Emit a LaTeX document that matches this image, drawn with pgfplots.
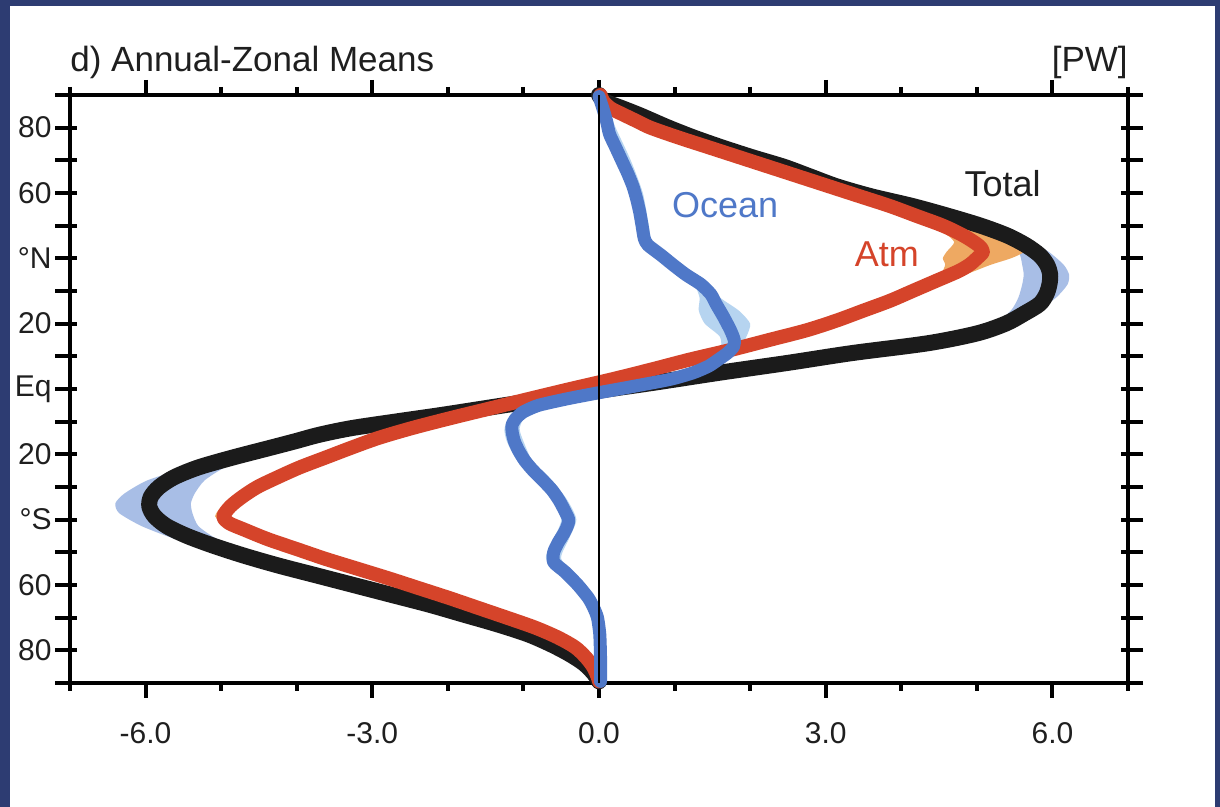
\documentclass[border=0pt]{standalone}
\usepackage{pgfplots}
\pgfplotsset{compat=1.18}
\usepackage{pgfplotstable}
\usepackage{fontspec}
\setmainfont{Liberation Sans}
\definecolor{totband}{HTML}{A8BEE6}
\definecolor{atmband}{HTML}{EEA962}
\definecolor{ocnband}{HTML}{B6D4F0}
\definecolor{atmred}{HTML}{D5442A}
\definecolor{ocnblue}{HTML}{4F78C8}
\definecolor{totblack}{HTML}{1B1B1B}
\definecolor{slide}{HTML}{2D3C72}

% Total northward energy transport (PW) vs latitude
\pgfplotstableread{
lat val
90 0.00
88 0.08
86 0.30
84 0.52
82 0.72
80 0.92
77 1.25
74 1.62
71 2.02
68 2.45
65 2.80
62 3.15
59 3.60
56 4.15
53 4.62
50 5.05
47 5.40
44 5.65
41 5.83
38 5.93
35 5.97
32 5.96
29 5.92
26 5.83
23 5.62
20 5.38
17 5.00
14 4.35
11 3.35
8 2.50
5 1.60
2 0.75
0 0.15
-2 -0.42
-4 -0.98
-6 -1.54
-8 -2.10
-10 -2.70
-12 -3.28
-14 -3.70
-16 -4.02
-18 -4.35
-21 -4.85
-24 -5.30
-27 -5.62
-30 -5.82
-33 -5.93
-36 -5.95
-39 -5.88
-42 -5.72
-45 -5.45
-48 -5.10
-51 -4.70
-54 -4.25
-57 -3.75
-60 -3.25
-63 -2.75
-66 -2.25
-69 -1.80
-72 -1.35
-75 -0.95
-78 -0.65
-81 -0.40
-84 -0.20
-87 -0.07
-89.5 0.00
}\totaltab

% Atmosphere
\pgfplotstableread{
lat val
90 0.02
88 0.06
86 0.15
84 0.32
82 0.50
80 0.68
77 1.05
74 1.45
71 1.85
68 2.25
65 2.65
62 3.05
59 3.45
56 3.85
53 4.20
50 4.55
47 4.82
44 5.02
42 5.08
40 5.00
38 4.90
36 4.75
33 4.45
30 4.15
27 3.85
24 3.50
21 3.15
18 2.75
15 2.25
12 1.75
9 1.20
6 0.70
3 0.18
0 -0.38
-3 -0.92
-6 -1.45
-9 -1.98
-12 -2.48
-15 -2.92
-18 -3.28
-21 -3.62
-24 -3.96
-27 -4.25
-30 -4.52
-33 -4.72
-36 -4.88
-39 -4.97
-41 -4.90
-43 -4.70
-46 -4.38
-49 -4.00
-52 -3.62
-55 -3.20
-58 -2.78
-61 -2.38
-64 -1.98
-67 -1.60
-70 -1.22
-73 -0.85
-76 -0.55
-79 -0.32
-82 -0.18
-85 -0.08
-88 -0.02
-89.5 0.00
}\atmtab

% Ocean
\pgfplotstableread{
lat val
89.5 0.00
86 0.05
82 0.10
78 0.14
74 0.22
70 0.30
66 0.38
62 0.45
58 0.50
54 0.54
50 0.57
46 0.60
44 0.65
41 0.82
38 0.98
35 1.15
32 1.35
29 1.48
26 1.55
22 1.65
18 1.74
15 1.79
13 1.78
11 1.70
9 1.58
7 1.45
5 1.25
3 0.95
1 0.50
-1 0.03
-3 -0.42
-5 -0.80
-7 -1.00
-9 -1.10
-11 -1.15
-13 -1.15
-16 -1.12
-19 -1.06
-22 -0.98
-25 -0.87
-28 -0.74
-31 -0.62
-34 -0.53
-37 -0.46
-40 -0.40
-42 -0.42
-44 -0.46
-47 -0.54
-50 -0.60
-53 -0.60
-56 -0.45
-60 -0.28
-64 -0.14
-67 -0.07
-70 -0.02
-75 0.01
-82 0.02
-89.5 0.02
}\ocntab

% uncertainty ranges as closed outlines (down the low edge, up the high edge)
\pgfplotstableread{
x y
0 90
0.28 86
0.86 80
1.55 74
2.38 68
3.05 62
4.02 56
4.9 50
5.3 46
5.55 42
5.6 38
5.62 35
5.6 32
5.55 28
5.45 24
5.22 20
4.6 16
3.62 12
2.38 8
1.15 4
0.04 0
-1.08 -4
-2.2 -8
-3.38 -12
-4.15 -16
-4.85 -20
-5.45 -24
-5.98 -28
-6.28 -32
-6.4 -35
-6.35 -38
-6.05 -42
-5.6 -46
-5.0 -50
-4.35 -54
-3.65 -58
-3.0 -62
-1.95 -68
-1.1 -74
-0.5 -80
-0.12 -86
0 -89.5
0.02 -89.5
-0.05 -86
-0.4 -80
-0.98 -74
-1.78 -68
-2.82 -62
-3.45 -58
-4.1 -54
-4.65 -50
-5.05 -46
-5.3 -42
-5.38 -38
-5.4 -35
-5.35 -32
-5.22 -28
-4.95 -24
-4.5 -20
-3.9 -16
-3.18 -12
-2.0 -8
-0.88 -4
0.24 0
1.35 4
2.6 8
3.85 12
4.9 16
5.48 20
5.8 24
6.05 28
6.2 32
6.22 35
6.15 38
5.95 42
5.65 46
5.2 50
4.3 56
3.28 62
2.55 68
1.72 74
1.0 80
0.34 86
0.02 90
}\totband

\pgfplotstableread{
x y
0 90
0.12 86
0.65 80
1.4 74
2.18 68
2.68 64
3.15 60
3.7 56
4.18 52
4.55 48
4.7 45
4.6 42
4.55 40
4.58 38
4.5 35
4.05 30
3.5 25
2.9 20
2.15 15
1.2 10
0.35 5
-0.48 0
-1.35 -5
-2.22 -10
-3.02 -15
-3.6 -20
-4.12 -25
-4.62 -30
-4.95 -35
-5.08 -39
-4.9 -42
-4.6 -46
-4.1 -50
-3.45 -55
-2.7 -60
-1.95 -65
-1.32 -70
-0.7 -75
-0.3 -80
-0.1 -85
0 -89.5
0.02 -89.5
-0.04 -85
-0.2 -80
-0.55 -75
-1.1 -70
-1.72 -65
-2.38 -60
-3.05 -55
-3.7 -50
-4.25 -46
-4.7 -42
-4.88 -39
-4.75 -35
-4.42 -30
-3.92 -25
-3.4 -20
-2.82 -15
-2.0 -10
-1.15 -5
-0.28 0
0.55 5
1.4 10
2.35 15
3.1 20
3.72 25
4.3 30
4.85 35
5.18 38
5.45 40
5.62 42
5.55 45
5.35 48
4.95 52
4.42 56
3.8 60
3.15 64
2.5 68
1.65 74
0.82 80
0.2 86
0.04 90
}\atmband

\pgfplotstableread{
x y
-0.03 89.5
0.05 80
0.22 70
0.40 60
0.52 50
0.58 44
0.9 38
1.25 32
1.33 28
1.32 24
1.4 20
1.6 16
1.6 12
1.35 8
1.0 4
0.1 0
-0.7 -4
-1.15 -8
-1.25 -12
-1.22 -16
-1.08 -22
-0.82 -28
-0.62 -34
-0.5 -40
-0.6 -46
-0.7 -52
-0.42 -58
-0.22 -64
-0.08 -70
-0.03 -80
-0.03 -89.5
0.06 -89.5
0.06 -80
0.04 -70
-0.06 -64
-0.25 -58
-0.5 -52
-0.4 -46
-0.3 -40
-0.42 -34
-0.62 -28
-0.88 -22
-1.0 -16
-1.05 -12
-0.95 -8
-0.5 -4
0.35 0
1.2 4
1.6 8
1.85 12
1.95 16
2.0 20
1.85 24
1.6 28
1.45 32
1.08 38
0.72 44
0.66 50
0.58 60
0.42 70
0.22 80
0.05 89.5
}\ocnband

\begin{document}
\begin{tikzpicture}
% 1 px of the reference = 0.5 pt
\fill[slide] (0pt,0pt) rectangle (610pt,403.5pt);
\fill[white] (5pt,0pt) rectangle (607.5pt,400.5pt);
\begin{axis}[
  at={(35pt,62pt)}, anchor=south west,
  scale only axis, width=529pt, height=294pt,
  xmin=-7, xmax=7, ymin=-90, ymax=90,
  clip=false,
  axis line style={line width=2.2pt, line cap=rect},
  tick style={line width=2pt, black},
  tick align=outside,
  major tick length=7.5pt,
  minor tick length=4pt,
  xtick={-6,-3,0,3,6},
  xticklabels={-6.0,-3.0,0.0,3.0,6.0},
  minor xtick={-7,-5,-4,-2,-1,1,2,4,5,7},
  ytick={-90,-80,...,90},
  yticklabels={,80,,60,,{°S},,20,,Eq,,20,,{°N},,60,,80,},
  extra y ticks={-90,-80,...,90},
  extra y tick labels={},
  extra y tick style={tick align=inside, major tick length=3.5pt},
  tick label style={font=\fontsize{15}{17}\selectfont, text=black!88},
  xticklabel style={inner sep=0pt, yshift=-12pt},
  yticklabel style={inner sep=0pt, xshift=-1.5pt},
]
% uncertainty bands
\addplot[fill=totband, draw=none, smooth, tension=0.4] table[x=x, y=y] {\totband} -- cycle;
\addplot[fill=atmband, draw=none, smooth, tension=0.4] table[x=x, y=y] {\atmband} -- cycle;
\addplot[fill=ocnband, draw=none, smooth, tension=0.4] table[x=x, y=y] {\ocnband} -- cycle;
% curves
\addplot[totblack, line width=8pt, smooth, tension=0.5, line cap=round, line join=round] table[x=val, y=lat] {\totaltab};
\addplot[atmred, line width=7pt, smooth, tension=0.5, line cap=round, line join=round] table[x=val, y=lat] {\atmtab};
\addplot[ocnblue, line width=6.5pt, smooth, tension=0.4, line cap=round, line join=round] table[x=val, y=lat] {\ocntab};
% zero line
\addplot[black, line width=1.2pt] coordinates {(0,-90) (0,90)};
% labels
\node[anchor=base, font=\fontsize{18}{20}\selectfont, text=black!88] at (axis cs:5.34,58.8) {Total};
\node[anchor=base, font=\fontsize{18}{20}\selectfont, text=atmred] at (axis cs:3.81,37.4) {Atm};
\node[anchor=base, font=\fontsize{18}{20}\selectfont, text=ocnblue] at (axis cs:1.67,52.4) {Ocean};
\node[anchor=base west, inner sep=0pt, font=\fontsize{17.5}{20}\selectfont, text=black!88] at ([yshift=11.5pt]rel axis cs:0,1) {d) Annual-Zonal Means};
\node[anchor=base east, inner sep=0pt, font=\fontsize{17.5}{20}\selectfont, text=black!88] at ([yshift=11.5pt]rel axis cs:1,1) {[PW]};
\end{axis}
\pgfresetboundingbox
\useasboundingbox (0pt,0pt) rectangle (610pt,403.5pt);
\end{tikzpicture}
\end{document}
